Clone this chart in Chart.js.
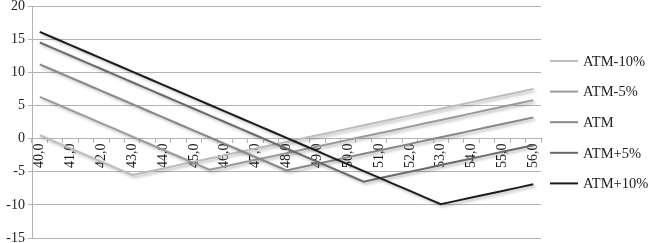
<!DOCTYPE html>
<html>
<head>
<meta charset="utf-8">
<script src="https://cdn.jsdelivr.net/npm/chart.js@4"></script>
<style>
  body { margin: 0; background: #fff; }
  canvas { display: block; }
</style>
</head>
<body>
<canvas id="chartAtm" width="650" height="243"></canvas>
<script>
// === DATA ===
const strikes = ['40,0','40,5','41,0','41,5','42,0','42,5','43,0','43,5','44,0','44,5','45,0',
  '45,5','46,0','46,5','47,0','47,5','48,0','48,5','49,0','49,5','50,0','50,5','51,0','51,5',
  '52,0','52,5','53,0','53,5','54,0','54,5','55,0','55,5','56,0'];

const atmMin10 = [0.5,-0.5,-1.5,-2.5,-3.5,-4.5,-5.5,-5,-4.5,-4,-3.5,-3,-2.5,-2,-1.5,-1,-0.5,
  0,0.5,1,1.5,2,2.5,3,3.5,4,4.5,5,5.5,6,6.5,7,7.5];
const atmMin5 = [6.3,5.3,4.3,3.3,2.3,1.3,0.3,-0.7,-1.7,-2.7,-3.7,-4.7,-4.2,-3.7,-3.2,-2.7,-2.2,
  -1.7,-1.2,-0.7,-0.2,0.3,0.8,1.3,1.8,2.3,2.8,3.3,3.8,4.3,4.8,5.3,5.8];
const atm = [11.2,10.2,9.2,8.2,7.2,6.2,5.2,4.2,3.2,2.2,1.2,0.2,-0.8,-1.8,-2.8,-3.8,-4.8,-4.3,
  -3.8,-3.3,-2.8,-2.3,-1.8,-1.3,-0.8,-0.3,0.2,0.7,1.2,1.7,2.2,2.7,3.2];
const atmPlus5 = [14.5,13.5,12.5,11.5,10.5,9.5,8.5,7.5,6.5,5.5,4.5,3.5,2.5,1.5,0.5,-0.5,-1.5,
  -2.5,-3.5,-4.5,-5.5,-6.5,-6,-5.5,-5,-4.5,-4,-3.5,-3,-2.5,-2,-1.5,-1];
const atmPlus10 = [16.1,15.1,14.1,13.1,12.1,11.1,10.1,9.1,8.1,7.1,6.1,5.1,4.1,3.1,2.1,1.1,0.1,
  -0.9,-1.9,-2.9,-3.9,-4.9,-5.9,-6.9,-7.9,-8.9,-9.9,-9.4,-8.9,-8.4,-7.9,-7.4,-6.9];

const seriesNames = ['ATM-10%', 'ATM-5%', 'ATM', 'ATM+5%', 'ATM+10%'];
const yTicks = [-15, -10, -5, 0, 5, 10, 15, 20];

// === STYLE ===
const warna = ['#bdbdbd', '#9a9a9a', '#888888', '#6a6a6a', '#1c1c1c'];
const garis = '#b4b4b4';
const fontSerif = "'Liberation Serif', 'Times New Roman', serif";

// === SHADOW ===
const shadowPlugin = {
  id: 'shadow',
  beforeDatasetsDraw(chart) {
    const ctx = chart.ctx;
    ctx.save();
    ctx.shadowColor = 'rgba(0,0,0,0.28)';
    ctx.shadowBlur = 3;
    ctx.shadowOffsetX = 2;
    ctx.shadowOffsetY = 2;
  },
  afterDatasetsDraw(chart) {
    chart.ctx.restore();
  }
};

// === LEGEND ===
const legendPlugin = {
  id: 'legendKanan',
  afterDraw(chart) {
    const ctx = chart.ctx;
    ctx.save();
    ctx.font = `14.5px ${fontSerif}`;
    ctx.textBaseline = 'middle';
    ctx.fillStyle = '#222';
    seriesNames.forEach((nama, i) => {
      const y = 61 + i * 30.6;
      ctx.strokeStyle = warna[i];
      ctx.lineWidth = 2;
      ctx.beginPath();
      ctx.moveTo(550, y);
      ctx.lineTo(578, y);
      ctx.stroke();
      ctx.fillText(nama, 583, y + 1);
    });
    ctx.restore();
  }
};

const dataSeri = [atmMin10, atmMin5, atm, atmPlus5, atmPlus10];

new Chart(document.getElementById('chartAtm').getContext('2d'), {
  type: 'line',
  data: {
    labels: strikes,
    datasets: dataSeri.map((d, i) => ({
      label: seriesNames[i],
      data: d,
      borderColor: warna[i],
      backgroundColor: warna[i],
      borderWidth: 2,
      pointRadius: 0,
      tension: 0,
      order: 4 - i
    }))
  },
  options: {
    responsive: false,
    animation: false,
    layout: { padding: { top: 6, bottom: 5, left: 0, right: 109 } },
    plugins: {
      legend: { display: false },
      tooltip: { enabled: false }
    },
    scales: {
      x: {
        type: 'category',
        position: { y: 0 },
        offset: true,
        grid: { offset: true, drawOnChartArea: false, drawTicks: true, tickLength: 4, color: garis },
        border: { color: garis },
        ticks: {
          autoSkip: false,
          minRotation: 90,
          maxRotation: 90,
          padding: 1,
          color: '#1a1a1a',
          font: { family: fontSerif, size: 14 },
          callback: (v, i) => (i % 2 === 0 ? strikes[i] : '')
        }
      },
      y: {
        min: -15,
        max: 20,
        afterBuildTicks: s => { s.ticks = yTicks.map(v => ({ value: v })); },
        afterFit: s => { s.width = 32; s.paddingTop = 0; s.paddingBottom = 0; },
        grid: { color: garis, tickLength: 4 },
        border: { color: garis },
        ticks: {
          padding: 3,
          color: '#222',
          font: { family: fontSerif, size: 14 }
        }
      }
    }
  },
  plugins: [shadowPlugin, legendPlugin]
});
</script>
</body>
</html>
